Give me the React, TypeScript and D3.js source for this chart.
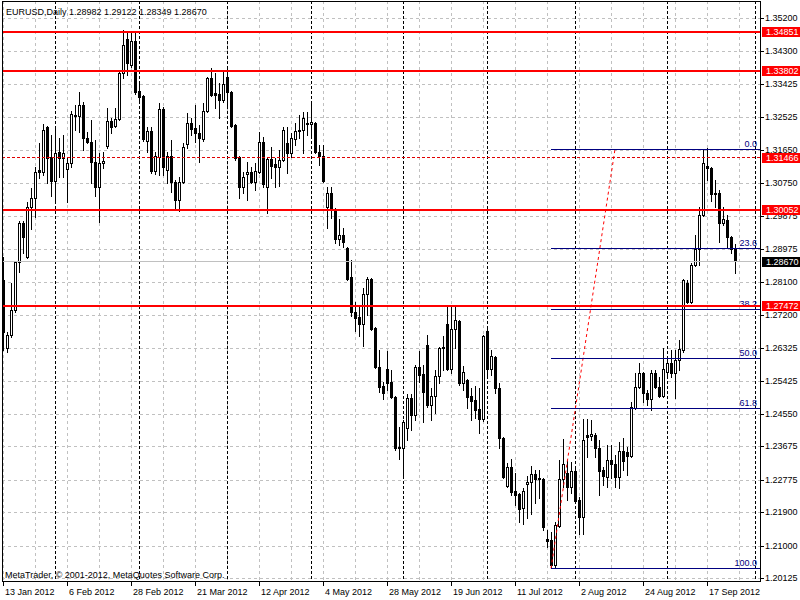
import React from 'react';
import * as d3 from 'd3';

// EURUSD daily bars, 13 Jan 2012 .. 26 Sep 2012
const opens = [
  1.2816, 1.2633, 1.2668, 1.2735, 1.2865, 1.2969, 1.2878, 1.3012, 1.3037, 1.3112,
  1.3107, 1.3228, 1.3147, 1.3082, 1.3160, 1.3144, 1.3115, 1.3131, 1.3260, 1.3257,
  1.3287, 1.3198, 1.3187, 1.3133, 1.3066, 1.3131, 1.3176, 1.3244, 1.3230, 1.3249,
  1.3373, 1.3464, 1.3394, 1.3459, 1.3324, 1.3311, 1.3190, 1.3217, 1.3109, 1.3147,
  1.3276, 1.3112, 1.3150, 1.3080, 1.3031, 1.3080, 1.3182, 1.3238, 1.3225, 1.3211,
  1.3195, 1.3271, 1.3359, 1.3319, 1.3316, 1.3300, 1.3362, 1.3322, 1.3233, 1.3147,
  1.3066, 1.3101, 1.3107, 1.3080, 1.3107, 1.3187, 1.3066, 1.3141, 1.3128, 1.3120,
  1.3139, 1.3184, 1.3158, 1.3195, 1.3217, 1.3219, 1.3238, 1.3236, 1.3238, 1.3160,
  1.3150, 1.3012, 1.3050, 1.3007, 1.2926, 1.2937, 1.2902, 1.2824, 1.2730, 1.2717,
  1.2698, 1.2778, 1.2819, 1.2687, 1.2581, 1.2531, 1.2576, 1.2542, 1.2501, 1.2367,
  1.2364, 1.2418, 1.2499, 1.2453, 1.2581, 1.2563, 1.2641, 1.2480, 1.2504, 1.2558,
  1.2633, 1.2698, 1.2576, 1.2684, 1.2706, 1.2539, 1.2547, 1.2504, 1.2493, 1.2469,
  1.2442, 1.2679, 1.2576, 1.2609, 1.2526, 1.2391, 1.2262, 1.2313, 1.2249, 1.2240,
  1.2203, 1.2268, 1.2273, 1.2294, 1.2284, 1.2281, 1.2120, 1.2117, 1.2050, 1.2154,
  1.2281, 1.2297, 1.2259, 1.2302, 1.2225, 1.2179, 1.2399, 1.2396, 1.2399, 1.2364,
  1.2305, 1.2286, 1.2332, 1.2321, 1.2286, 1.2356, 1.2354, 1.2343, 1.2472, 1.2528,
  1.2566, 1.2512, 1.2496, 1.2566, 1.2528, 1.2504, 1.2568, 1.2593, 1.2566, 1.2601,
  1.2628, 1.2808, 1.2757, 1.2856, 1.2899, 1.2991, 1.3123, 1.3117, 1.3050, 1.3050,
  1.2969, 1.2977, 1.2932, 1.28982,
];
const highs = [
  1.2878, 1.2676, 1.2808, 1.2867, 1.2975, 1.2975, 1.3026, 1.3064, 1.3120, 1.3184,
  1.3236, 1.3230, 1.3206, 1.3225, 1.3198, 1.3206, 1.3147, 1.3271, 1.3287, 1.3322,
  1.3295, 1.3214, 1.3246, 1.3193, 1.3158, 1.3160, 1.3279, 1.3252, 1.3279, 1.3378,
  1.3488, 1.3480, 1.3483, 1.3483, 1.3346, 1.3313, 1.3228, 1.3228, 1.3160, 1.3292,
  1.3281, 1.3160, 1.3193, 1.3085, 1.3093, 1.3184, 1.3265, 1.3252, 1.3287, 1.3233,
  1.3292, 1.3362, 1.3386, 1.3373, 1.3346, 1.3375, 1.3383, 1.3324, 1.3236, 1.3150,
  1.3107, 1.3133, 1.3120, 1.3131, 1.3214, 1.3201, 1.3147, 1.3174, 1.3144, 1.3166,
  1.3228, 1.3228, 1.3211, 1.3238, 1.3260, 1.3268, 1.3268, 1.3289, 1.3241, 1.3179,
  1.3179, 1.3066, 1.3066, 1.3010, 1.2980, 1.2956, 1.2905, 1.2870, 1.2757, 1.2743,
  1.2795, 1.2824, 1.2821, 1.2689, 1.2628, 1.2542, 1.2625, 1.2574, 1.2504, 1.2421,
  1.2440, 1.2510, 1.2510, 1.2588, 1.2625, 1.2588, 1.2668, 1.2526, 1.2574, 1.2636,
  1.2665, 1.2746, 1.2743, 1.2743, 1.2709, 1.2585, 1.2550, 1.2526, 1.2531, 1.2526,
  1.2668, 1.2689, 1.2628, 1.2612, 1.2539, 1.2394, 1.2324, 1.2335, 1.2297, 1.2243,
  1.2257, 1.2289, 1.2316, 1.2305, 1.2305, 1.2284, 1.2144, 1.2138, 1.2165, 1.2332,
  1.2389, 1.2332, 1.2327, 1.2313, 1.2232, 1.2442, 1.2442, 1.2440, 1.2405, 1.2386,
  1.2313, 1.2372, 1.2372, 1.2345, 1.2380, 1.2391, 1.2367, 1.2488, 1.2566, 1.2593,
  1.2569, 1.2520, 1.2574, 1.2574, 1.2555, 1.2633, 1.2609, 1.2628, 1.2628, 1.2655,
  1.2819, 1.2816, 1.2862, 1.2937, 1.3012, 1.3168, 1.3171, 1.3120, 1.3085, 1.3058,
  1.3012, 1.2991, 1.2934, 1.29122,
];
const lows = [
  1.2628, 1.2622, 1.2663, 1.2730, 1.2838, 1.2889, 1.2875, 1.2953, 1.2986, 1.3090,
  1.3098, 1.3077, 1.3042, 1.3023, 1.3093, 1.3093, 1.3026, 1.3120, 1.3219, 1.3214,
  1.3166, 1.3184, 1.3077, 1.3042, 1.2972, 1.3117, 1.3171, 1.3211, 1.3228, 1.3246,
  1.3359, 1.3367, 1.3389, 1.3316, 1.3292, 1.3190, 1.3160, 1.3104, 1.3101, 1.3098,
  1.3098, 1.3077, 1.3053, 1.3010, 1.3002, 1.3077, 1.3171, 1.3206, 1.3187, 1.3133,
  1.3190, 1.3268, 1.3311, 1.3279, 1.3252, 1.3295, 1.3279, 1.3228, 1.3139, 1.3037,
  1.3050, 1.3031, 1.3077, 1.3058, 1.3104, 1.3066, 1.2996, 1.3090, 1.3066, 1.3069,
  1.3136, 1.3104, 1.3147, 1.3179, 1.3198, 1.3158, 1.3206, 1.3206, 1.3158, 1.3125,
  1.3080, 1.2956, 1.2983, 1.2916, 1.2910, 1.2905, 1.2816, 1.2719, 1.2679, 1.2665,
  1.2639, 1.2722, 1.2682, 1.2579, 1.2515, 1.2496, 1.2520, 1.2499, 1.2359, 1.2335,
  1.2284, 1.2386, 1.2413, 1.2440, 1.2542, 1.2434, 1.2474, 1.2440, 1.2458, 1.2539,
  1.2574, 1.2574, 1.2566, 1.2633, 1.2534, 1.2520, 1.2472, 1.2440, 1.2445, 1.2405,
  1.2437, 1.2555, 1.2561, 1.2512, 1.2364, 1.2284, 1.2259, 1.2238, 1.2211, 1.2165,
  1.2160, 1.2176, 1.2187, 1.2216, 1.2230, 1.2144, 1.2098, 1.2041, 1.2042, 1.2152,
  1.2259, 1.2225, 1.2243, 1.2216, 1.2133, 1.2133, 1.2340, 1.2386, 1.2340, 1.2238,
  1.2265, 1.2259, 1.2284, 1.2259, 1.2257, 1.2305, 1.2292, 1.2340, 1.2469, 1.2526,
  1.2488, 1.2480, 1.2467, 1.2526, 1.2501, 1.2501, 1.2555, 1.2555, 1.2499, 1.2574,
  1.2622, 1.2754, 1.2754, 1.2853, 1.2856, 1.2988, 1.3085, 1.3029, 1.3012, 1.2918,
  1.2964, 1.2902, 1.2889, 1.28349,
];
const closes = [
  1.2676, 1.2668, 1.2735, 1.2865, 1.2969, 1.2932, 1.3012, 1.3037, 1.3107, 1.3107,
  1.3219, 1.3144, 1.3082, 1.3158, 1.3144, 1.3158, 1.3131, 1.3262, 1.3257, 1.3287,
  1.3198, 1.3187, 1.3133, 1.3066, 1.3131, 1.3136, 1.3244, 1.3228, 1.3249, 1.3373,
  1.3448, 1.3400, 1.3459, 1.3322, 1.3308, 1.3195, 1.3217, 1.3109, 1.3150, 1.3276,
  1.3120, 1.3150, 1.3080, 1.3031, 1.3080, 1.3174, 1.3238, 1.3222, 1.3211, 1.3198,
  1.3271, 1.3359, 1.3314, 1.3314, 1.3300, 1.3343, 1.3322, 1.3230, 1.3144, 1.3066,
  1.3093, 1.3107, 1.3080, 1.3109, 1.3187, 1.3074, 1.3141, 1.3123, 1.3120, 1.3139,
  1.3219, 1.3158, 1.3198, 1.3217, 1.3219, 1.3252, 1.3236, 1.3241, 1.3160, 1.3150,
  1.3082, 1.3050, 1.3007, 1.2926, 1.2937, 1.2918, 1.2819, 1.2730, 1.2714, 1.2698,
  1.2778, 1.2819, 1.2684, 1.2581, 1.2528, 1.2512, 1.2539, 1.2501, 1.2364, 1.2364,
  1.2434, 1.2499, 1.2453, 1.2581, 1.2561, 1.2515, 1.2480, 1.2504, 1.2558, 1.2633,
  1.2636, 1.2576, 1.2684, 1.2709, 1.2539, 1.2568, 1.2501, 1.2491, 1.2467, 1.2442,
  1.2665, 1.2576, 1.2612, 1.2526, 1.2391, 1.2286, 1.2313, 1.2246, 1.2238, 1.2200,
  1.2249, 1.2273, 1.2294, 1.2281, 1.2281, 1.2152, 1.2114, 1.2050, 1.2157, 1.2281,
  1.2321, 1.2259, 1.2302, 1.2222, 1.2179, 1.2386, 1.2394, 1.2402, 1.2364, 1.2302,
  1.2289, 1.2332, 1.2321, 1.2286, 1.2356, 1.2329, 1.2343, 1.2475, 1.2528, 1.2566,
  1.2512, 1.2496, 1.2566, 1.2528, 1.2504, 1.2576, 1.2593, 1.2566, 1.2601, 1.2630,
  1.2816, 1.2757, 1.2856, 1.2899, 1.2991, 1.3131, 1.3117, 1.3048, 1.3048, 1.2969,
  1.2980, 1.2932, 1.2899, 1.28670,
];

const priceTicks = [
  1.352, 1.343, 1.33425, 1.32525, 1.3165, 1.3075, 1.29875, 1.28975, 1.281,
  1.272, 1.26325, 1.25425, 1.2455, 1.23675, 1.22775, 1.219, 1.21, 1.20125,
];
const dateTicks = [
  '13 Jan 2012', '6 Feb 2012', '28 Feb 2012', '21 Mar 2012', '12 Apr 2012', '4 May 2012',
  '28 May 2012', '19 Jun 2012', '11 Jul 2012', '2 Aug 2012', '24 Aug 2012', '17 Sep 2012',
];
const separatorDates = [
  '1 Feb 2012', '1 Mar 2012', '2 Apr 2012', '1 May 2012', '1 Jun 2012',
  '2 Jul 2012', '1 Aug 2012', '3 Sep 2012', '3 Oct 2012',
];
const redLevels = [1.34851, 1.33802, 1.30052, 1.27472];
const dashedLevels = [1.31466];
const fibLevels = [0, 23.6, 38.2, 50, 61.8, 100];
const fibFrom = { date: '24 Jul 2012', price: 1.2041 };
const fibTo = { date: '15 Aug 2012', price: 1.3168 };

const firstDay = new Date(2012, 0, 13);
const slots = 190; // bars plus the shifted empty space on the right

const W = 800;
const H = 600;
const L = 2, R = 760, T = 1, B = 581;
const FONT = "'Liberation Sans', Arial, sans-serif";

const fmtDate = d3.timeFormat('%-d %b %Y');
const fmtPrice = d3.format('.5f');
const fmtFib = d3.format('.1f');

export default function App() {
  const days: Date[] = [];
  for (let d = new Date(firstDay); days.length < slots; d.setDate(d.getDate() + 1)) {
    const wd = d.getDay();
    if (wd !== 0 && wd !== 6) days.push(new Date(d));
  }
  const labels = days.map(fmtDate);
  const idx = (s: string) => labels.indexOf(s);

  const x = d3.scaleLinear().domain([0, slots - 1]).range([3, 759]);
  const y = d3.scaleLinear().domain([1.2007, 1.3566]).range([B, T]);
  const xp = (i: number) => Math.round(x(i));
  const yl = (p: number) => Math.floor(y(p)) + 0.5;

  const last = closes[closes.length - 1];
  const fibX0 = xp(Math.min(idx(fibFrom.date), idx(fibTo.date)));
  const fibRange = fibTo.price - fibFrom.price;

  return (
    <svg
      width={W}
      height={H}
      style={{ position: 'absolute', left: 0, top: 0, background: '#fff' }}
      fontFamily={FONT}
      fontSize={9}
    >
      <defs>
        <clipPath id="plot">
          <rect x={L + 1} y={T + 1} width={R - L - 1} height={B - T - 1} />
        </clipPath>
      </defs>
      <rect x={0} y={0} width={W} height={H} fill="#fff" />

      <g clipPath="url(#plot)">
        {/* grid */}
        {priceTicks.map((p) => (
          <line key={'hg' + p} x1={L} x2={R} y1={yl(p)} y2={yl(p)} stroke="#c0c0c0" strokeDasharray="3,3" />
        ))}
        {d3.range(0, slots, 8).map((i) => (
          <line key={'vg' + i} x1={xp(i) + 0.5} x2={xp(i) + 0.5} y1={T} y2={B} stroke="#c0c0c0" strokeDasharray="3,3" />
        ))}
        {separatorDates.map((s) => (
          <line key={'sep' + s} x1={xp(idx(s)) + 0.5} x2={xp(idx(s)) + 0.5} y1={T} y2={B} stroke="#000" strokeDasharray="3,2" />
        ))}

        {/* candles */}
        {opens.map((o, i) => {
          const c = closes[i];
          const cx = xp(i);
          const top = Math.round(y(Math.max(o, c)));
          const bot = Math.round(y(Math.min(o, c)));
          return (
            <g key={'c' + i}>
              <line x1={cx + 0.5} x2={cx + 0.5} y1={Math.round(y(highs[i]))} y2={Math.round(y(lows[i])) + 1} stroke="#000" />
              <rect x={cx - 0.5} y={top + 0.5} width={2} height={Math.max(bot - top, 0)} fill={c >= o ? '#fff' : '#000'} stroke="#000" />
            </g>
          );
        })}

        {/* bid line */}
        <line x1={L} x2={R} y1={yl(last)} y2={yl(last)} stroke="#c0c0c0" />

        {/* fibonacci retracement */}
        <line
          x1={x(idx(fibFrom.date))}
          y1={y(fibFrom.price)}
          x2={x(idx(fibTo.date))}
          y2={y(fibTo.price)}
          stroke="#ff0000"
          strokeDasharray="3,3"
        />
        {fibLevels.map((lv) => {
          const p = fibTo.price - (fibRange * lv) / 100;
          const fy = yl(p);
          return (
            <g key={'fib' + lv}>
              <line x1={fibX0} x2={R} y1={fy} y2={fy} stroke="#000080" />
              <text x={757} y={fy - 3} textAnchor="end" fill="#000080">
                {fmtFib(lv)}
              </text>
            </g>
          );
        })}

        {/* horizontal lines */}
        {dashedLevels.map((p) => (
          <line key={'dl' + p} x1={L} x2={R} y1={yl(p)} y2={yl(p)} stroke="#e00000" strokeDasharray="3,2" />
        ))}
        {redLevels.map((p) => (
          <line key={'rl' + p} x1={L} x2={R} y1={Math.floor(y(p)) + 1} y2={Math.floor(y(p)) + 1} stroke="#ff0000" strokeWidth={2} />
        ))}
      </g>

      {/* frame */}
      <rect x={L + 0.5} y={T + 0.5} width={R - L} height={B - T} fill="none" stroke="#000" />

      {/* header & footer text */}
      <text x={6} y={15} fill="#000">
        {`EURUSD,Daily  ${fmtPrice(opens[opens.length - 1])} ${fmtPrice(highs[highs.length - 1])} ${fmtPrice(lows[lows.length - 1])} ${fmtPrice(last)}`}
      </text>
      <text x={5} y={578} fill="#000">
        MetaTrader, © 2001-2012, MetaQuotes Software Corp.
      </text>

      {/* price axis */}
      {priceTicks.map((p) => (
        <g key={'pt' + p}>
          <line x1={761} x2={764} y1={yl(p)} y2={yl(p)} stroke="#000" />
          <text x={765} y={yl(p) + 2.5} fill="#000">
            {fmtPrice(p)}
          </text>
        </g>
      ))}
      {[...redLevels, ...dashedLevels].map((p) => (
        <g key={'lb' + p}>
          <rect x={762} y={Math.floor(y(p)) - 4} width={38} height={10} fill="#ff0000" />
          <text x={766} y={Math.floor(y(p)) + 4} fill="#fff">
            {fmtPrice(p)}
          </text>
        </g>
      ))}
      <rect x={762} y={Math.floor(y(last)) - 4} width={38} height={10} fill="#000" />
      <text x={766} y={Math.floor(y(last)) + 4} fill="#fff">
        {fmtPrice(last)}
      </text>

      {/* time axis */}
      {dateTicks.map((s) => {
        const tx = xp(idx(s));
        return (
          <g key={'dt' + s}>
            <line x1={tx + 0.5} x2={tx + 0.5} y1={B} y2={B + 5} stroke="#000" />
            <text x={tx + 2} y={595} fill="#000">
              {s}
            </text>
          </g>
        );
      })}
    </svg>
  );
}
